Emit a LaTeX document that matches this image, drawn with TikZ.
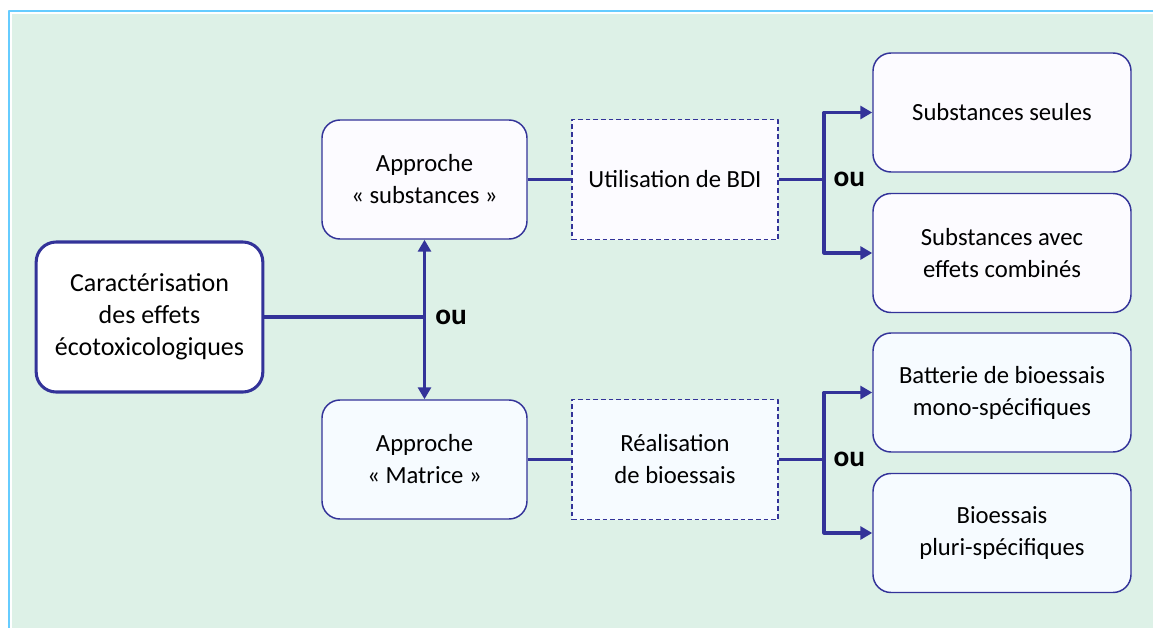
\documentclass[tikz,border=0pt]{standalone}
\usepackage{fontspec}
\setmainfont{Carlito}
\usetikzlibrary{arrows.meta}
\definecolor{trait}{HTML}{333399}
\definecolor{fond}{HTML}{DDF1E7}
\definecolor{cadre}{HTML}{66CCFF}
\definecolor{lavande}{HTML}{FCFBFF}
\definecolor{bleupale}{HTML}{F6FBFF}
\begin{document}
\begin{tikzpicture}[x=0.75pt,y=-0.75pt,line join=round,font=\fontsize{18.5}{24}\selectfont,
		>={Triangle[length=9pt,width=9.75pt]},
		boite/.style={draw=trait,line width=1.1pt,rounded corners=13.5pt,align=center,inner sep=2pt,minimum width=153.75pt,minimum height=89.25pt},
		tiret/.style={draw=trait,line width=0.9pt,dash pattern=on 3.5pt off 2.25pt,align=center,inner sep=2pt,minimum width=154.5pt,minimum height=90pt},
		resultat/.style={boite,minimum width=193.5pt},
		fin/.style={trait,line width=1.7pt},
		epais/.style={trait,line width=2.3pt},
		ou/.style={font=\fontsize{22}{24}\selectfont\bfseries,inner sep=0pt,anchor=west}]
		\useasboundingbox (0,0) rectangle (1153,628);
		\fill[white] (0,0) rectangle (1153,628);
		\fill[fond] (12,14) rectangle (1153,628);
		\draw[cadre,line width=1.8pt] (9,628)--(9,11)--(1153,11);
		\node[boite,fill=white,line width=2.3pt,rounded corners=15pt,minimum width=170pt,minimum height=112.5pt,font=\fontsize{19.5}{24}\selectfont] (carac) at (149.5,317) {Caractérisation\\des effets\\écotoxicologiques};
		\node[boite,fill=lavande] (subst) at (424.5,179.5) {Approche\\« substances »};
		\node[boite,fill=bleupale] (matrice) at (424.5,459.5) {Approche\\« Matrice »};
		\node[tiret,fill=lavande] (bdi) at (675,179.5) {Utilisation de BDI};
		\node[tiret,fill=bleupale] (essais) at (675,459.5) {Réalisation\\de bioessais};
		\node[resultat,fill=lavande] (seules) at (1002,112.5) {Substances seules};
		\node[resultat,fill=lavande] (combines) at (1002,253) {Substances avec\\effets combinés};
		\node[resultat,fill=bleupale] (batterie) at (1002,392.5) {Batterie de bioessais\\mono-spécifiques};
		\node[resultat,fill=bleupale] (pluri) at (1002,533) {Bioessais\\pluri-spécifiques};
		\coordinate (centre) at (424.5,317);
		\coordinate (haut) at (824,179.5);
		\coordinate (bas) at (824,459.5);
		\draw[epais] (carac)--(centre);
		\draw[epais,<->] (subst)--(matrice);
		\node[ou] at ([xshift=8pt]centre) {ou};
		\draw[fin] (subst)--(bdi);
		\draw[fin] (matrice)--(essais);
		\draw[epais] (bdi)--(haut);
		\draw[epais,->] (haut)|-(seules);
		\draw[epais,->] (haut)|-(combines);
		\node[ou] at ([xshift=7pt]haut) {ou};
		\draw[epais] (essais)--(bas);
		\draw[epais,->] (bas)|-(batterie);
		\draw[epais,->] (bas)|-(pluri);
		\node[ou] at ([xshift=7pt]bas) {ou};
\end{tikzpicture}
\end{document}
